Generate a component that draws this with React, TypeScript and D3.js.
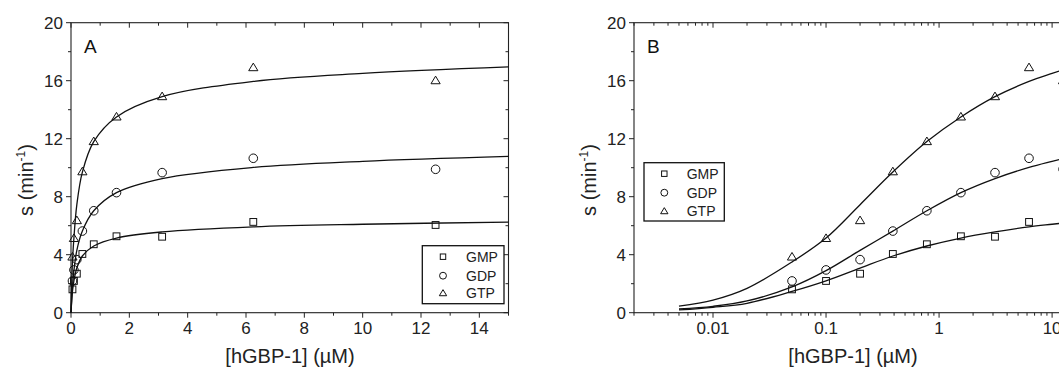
import React from "react";
import * as d3 from "d3";

// ---- data ----
const concentrations = [0.05, 0.1, 0.2, 0.39, 0.78, 1.56, 3.125, 6.25, 12.5];
const gmpValues = [1.61, 2.19, 2.69, 4.05, 4.72, 5.27, 5.24, 6.26, 6.05];
const gdpValues = [2.19, 2.95, 3.66, 5.63, 7.03, 8.28, 9.66, 10.65, 9.89];
const gtpValues = [3.84, 5.12, 6.35, 9.72, 11.8, 13.5, 14.9, 16.9, 16.0];

// fitted curves
const fitX = [0.005, 0.01, 0.02, 0.05, 0.1, 0.2, 0.39, 0.78, 1.56, 3.125, 6.25, 10, 15];
const gmpFit = [0.19, 0.37, 0.65, 1.47, 2.2, 3.08, 3.91, 4.6, 5.15, 5.57, 5.92, 6.1, 6.25];
const gdpFit = [0.26, 0.44, 0.81, 1.78, 2.9, 4.3, 5.63, 7.03, 8.28, 9.25, 10.02, 10.44, 10.78];
const gtpFit = [0.46, 0.87, 1.68, 3.5, 5.15, 7.45, 9.7, 11.8, 13.5, 14.9, 15.95, 16.5, 16.95];

const seriesNames = ["GMP", "GDP", "GTP"];
const seriesSymbols = ["square", "circle", "triangle"];
const yTickValues = [0, 4, 8, 12, 16, 20];
const xTickValuesA = [0, 2, 4, 6, 8, 10, 12, 14];
const xTickValuesB = [0.01, 0.1, 1, 10];
const xTickLabelsB = ["0.01", "0.1", "1", "10"];

const series = [
  { name: seriesNames[0], symbol: seriesSymbols[0], values: gmpValues, fit: gmpFit },
  { name: seriesNames[1], symbol: seriesSymbols[1], values: gdpValues, fit: gdpFit },
  { name: seriesNames[2], symbol: seriesSymbols[2], values: gtpValues, fit: gtpFit },
];

const FONT = "'Liberation Sans', Arial, Helvetica, sans-serif";
const TOP = 22.7;
const BOTTOM = 312.7;

function Marker({ type, x, y, s = 1 }: { type: string; x: number; y: number; s?: number }) {
  const common = { fill: "none", stroke: "#111", strokeWidth: 1 };
  if (type === "square") {
    const h = 3.4 * s;
    return <rect x={x - h} y={y - h} width={2 * h} height={2 * h} {...common} />;
  }
  if (type === "circle") {
    return <circle cx={x} cy={y} r={4.3 * s} {...common} />;
  }
  const w = 4.6 * s;
  const ht = 7.6 * s;
  const p = `M${x},${y - ht * 0.6}L${x + w},${y + ht * 0.4}L${x - w},${y + ht * 0.4}Z`;
  return <path d={p} {...common} />;
}

function YAxis({ left, right, y }: { left: number; right: number; y: d3.ScaleLinear<number, number> }) {
  const minor = d3.range(0, 21, 2);
  return (
    <g>
      {minor.map((v) => {
        const major = v % 4 === 0;
        const len = major ? 5 : 3;
        return (
          <g key={v}>
            <line x1={left - len} x2={left} y1={y(v)} y2={y(v)} stroke="#222" />
            <line x1={right - len} x2={right} y1={y(v)} y2={y(v)} stroke="#222" />
          </g>
        );
      })}
      {yTickValues.map((v) => (
        <text key={v} x={left - 8} y={y(v)} dy="0.36em" textAnchor="end" fontSize={17} fontFamily={FONT} fill="#222">
          {v}
        </text>
      ))}
      <text
        transform={`translate(${left - 38},180) rotate(-90)`}
        textAnchor="middle"
        fontSize={20}
        fontFamily={FONT}
        fill="#222"
      >
        s (min<tspan fontSize={12} dy={-8}>-1</tspan>
        <tspan dy={8}>)</tspan>
      </text>
    </g>
  );
}

function Frame({ x0, x1 }: { x0: number; x1: number }) {
  return <rect x={x0} y={TOP} width={x1 - x0} height={BOTTOM - TOP} fill="none" stroke="#222" strokeWidth={1.1} />;
}

function Legend({ x, y, w, h, symX, textX, rowY }: { x: number; y: number; w: number; h: number; symX: number; textX: number; rowY: number[] }) {
  return (
    <g>
      <rect x={x} y={y} width={w} height={h} fill="white" stroke="#111" strokeWidth={1.3} />
      {series.map((s, i) => (
        <g key={s.name}>
          <Marker type={s.symbol} x={symX} y={rowY[i]} s={0.8} />
          <text x={textX} y={rowY[i]} dy="0.36em" fontSize={14} fontFamily={FONT} fill="#222">
            {s.name}
          </text>
        </g>
      ))}
    </g>
  );
}

export default function App() {
  const y = d3.scaleLinear().domain([0, 20]).range([BOTTOM, TOP]);

  // Panel A
  const xA = d3.scaleLinear().domain([0, 15]).range([71, 508.5]);
  // Panel B
  const xB = d3.scaleLog().domain([0.002, 15]).range([634, 1072]);

  const lineA = d3
    .line<[number, number]>()
    .x((d) => xA(d[0]))
    .y((d) => y(d[1]))
    .curve(d3.curveCatmullRom.alpha(0.5));
  const lineB = d3
    .line<[number, number]>()
    .x((d) => xB(d[0]))
    .y((d) => y(d[1]))
    .curve(d3.curveCatmullRom.alpha(0.5));

  const minorA = d3.range(0, 16, 1);
  const minorB: number[] = [];
  [0.001, 0.01, 0.1, 1, 10].forEach((dec) => {
    for (let k = 1; k <= 9; k++) {
      const v = dec * k;
      if (v >= 0.002 && v <= 15) minorB.push(v);
    }
  });

  return (
    <svg width={1059} height={372} style={{ position: "absolute", left: 0, top: 0, background: "white" }}>
      {/* ---------- Panel A ---------- */}
      <g>
        <Frame x0={71} x1={508.5} />
        {minorA.map((v) => {
          const len = v % 2 === 0 ? 5 : 3;
          return (
            <g key={v}>
              <line x1={xA(v)} x2={xA(v)} y1={BOTTOM} y2={BOTTOM + len} stroke="#222" />
              <line x1={xA(v)} x2={xA(v)} y1={TOP} y2={TOP + len} stroke="#222" />
            </g>
          );
        })}
        {xTickValuesA.map((v) => (
          <text key={v} x={xA(v)} y={334} textAnchor="middle" fontSize={17} fontFamily={FONT} fill="#222">
            {v}
          </text>
        ))}
        <text x={290} y={363} textAnchor="middle" fontSize={20} fontFamily={FONT} fill="#222">
          [hGBP-1] (µM)
        </text>
        <YAxis left={71} right={508.5} y={y} />
        <text x={84} y={53} fontSize={19} fontFamily={FONT} fill="#111">A</text>
        {series.map((s) => (
          <path
            key={s.name}
            d={lineA([[0, 0] as [number, number], ...fitX.map((x, i) => [x, s.fit[i]] as [number, number])]) || ""}
            fill="none"
            stroke="#111"
            strokeWidth={1.3}
          />
        ))}
        {series.map((s) =>
          concentrations.map((c, i) => <Marker key={s.name + i} type={s.symbol} x={xA(c)} y={y(s.values[i])} />)
        )}
        <Legend x={422.3} y={245.7} w={81.7} h={58} symX={443} textX={466} rowY={[256.7, 275.7, 293.3]} />
      </g>

      {/* ---------- Panel B ---------- */}
      <g>
        <Frame x0={634} x1={1072} />
        {minorB.map((v, i) => {
          const major = xTickValuesB.some((t) => Math.abs(t - v) < 1e-9);
          const len = major ? 5 : 3;
          return (
            <g key={i}>
              <line x1={xB(v)} x2={xB(v)} y1={BOTTOM} y2={BOTTOM + len} stroke="#222" />
              <line x1={xB(v)} x2={xB(v)} y1={TOP} y2={TOP + len} stroke="#222" />
            </g>
          );
        })}
        {xTickValuesB.map((v, i) => (
          <text key={v} x={xB(v)} y={334} textAnchor="middle" fontSize={17} fontFamily={FONT} fill="#222">
            {xTickLabelsB[i]}
          </text>
        ))}
        <text x={853} y={363} textAnchor="middle" fontSize={20} fontFamily={FONT} fill="#222">
          [hGBP-1] (µM)
        </text>
        <YAxis left={634} right={1072} y={y} />
        <text x={647} y={53} fontSize={19} fontFamily={FONT} fill="#111">B</text>
        {series.map((s) => (
          <path
            key={s.name}
            d={lineB(fitX.map((x, i) => [x, s.fit[i]] as [number, number])) || ""}
            fill="none"
            stroke="#111"
            strokeWidth={1.3}
          />
        ))}
        {series.map((s) =>
          concentrations.map((c, i) => <Marker key={s.name + i} type={s.symbol} x={xB(c)} y={y(s.values[i])} />)
        )}
        <Legend x={644} y={162.7} w={80.3} h={58.3} symX={664.3} textX={686.7} rowY={[173.7, 192.7, 211.3]} />
      </g>
    </svg>
  );
}
